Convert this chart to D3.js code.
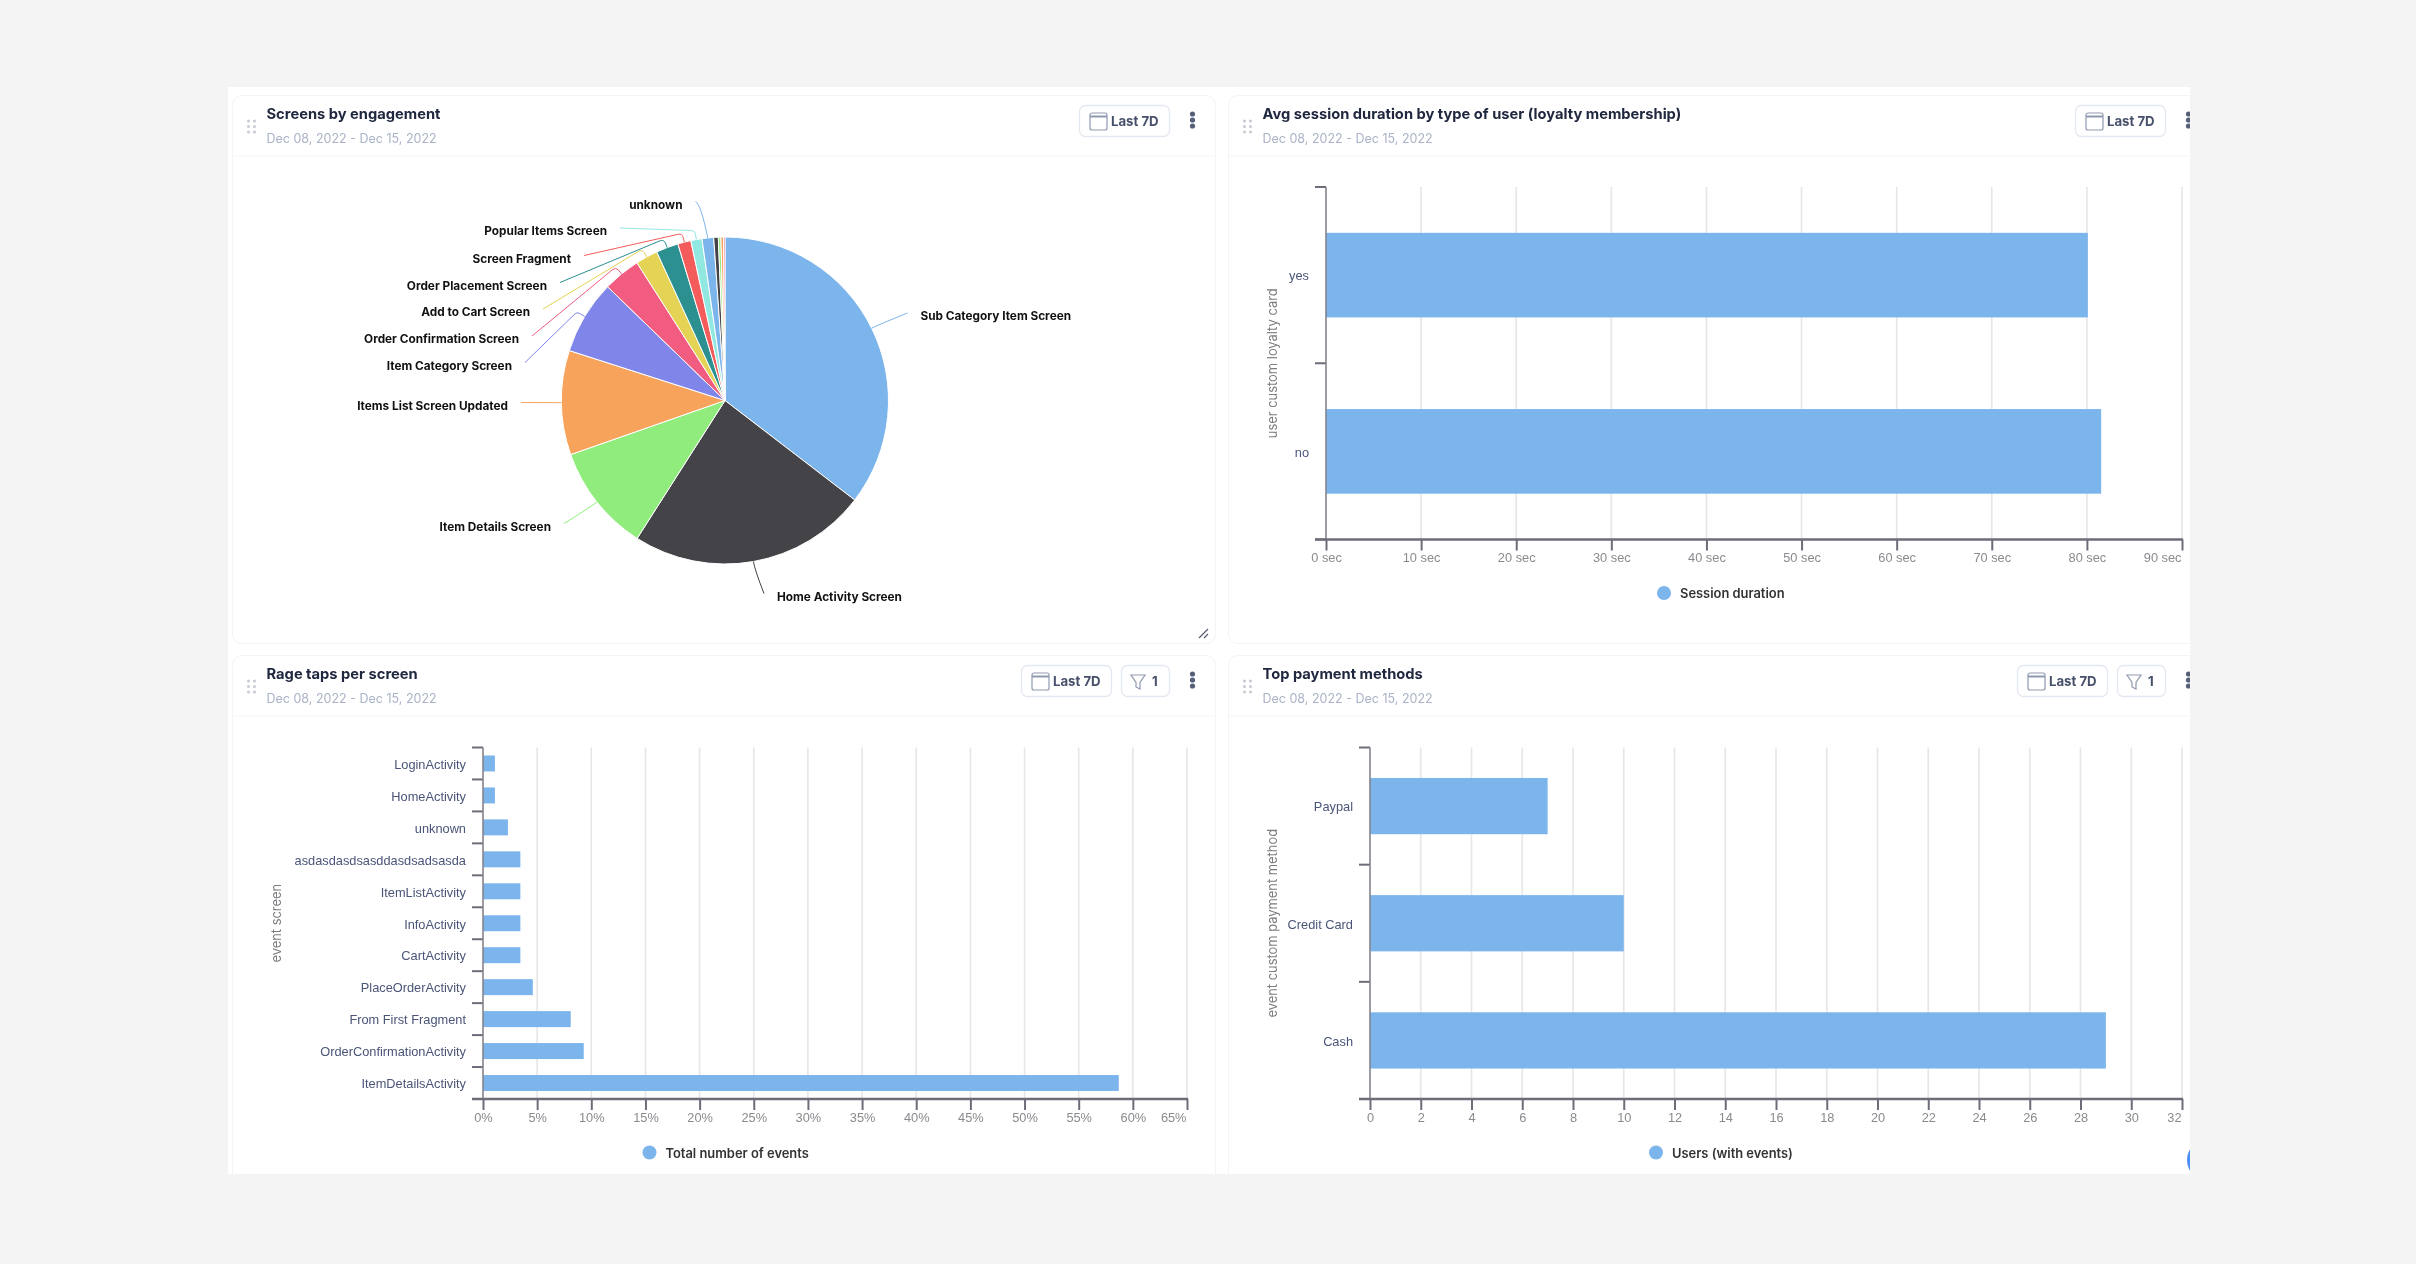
<!DOCTYPE html>
<html>
<head>
<meta charset="utf-8">
<script src="https://cdn.jsdelivr.net/npm/d3@7"></script>
<style>
html, body { margin: 0; padding: 0; background: #f4f4f4; overflow: hidden; }
svg { display: block; font-family: Inter, Roboto, sans-serif; filter: blur(0.45px); }
.axis-x text { fill: #8a8a8f; font-size: 12.8px; }
.axis-y text { fill: #4a5578; font-size: 12.8px; }
.axis-title { fill: #7c7c80; font-size: 12.9px; }
.legend-label { fill: #333; font-size: 12.9px; font-weight: 600; }
.pie-label { fill: #111; font-size: 11.8px; font-weight: 700; }
</style>
</head>
<body>
<svg id="chart" width="2416" height="1264"></svg>
<script>
// chart values
var pie_screens = ["Sub Category Item Screen", "Home Activity Screen", "Item Details Screen", "Items List Screen Updated",
    "Item Category Screen", "Order Confirmation Screen", "Add to Cart Screen", "Order Placement Screen",
    "Screen Fragment", "Popular Items Screen", "unknown", "other 1", "other 2", "other 3", "other 4"];
var pie_values = [35.4, 23.6, 10.6, 10.3, 7.3, 3.7, 2.2, 2.2, 1.3, 1.1, 1.15, 0.45, 0.25, 0.25, 0.15];

var session_users = ["yes", "no"];
var session_seconds = [80.1, 81.5];
var session_ticks = [0, 10, 20, 30, 40, 50, 60, 70, 80, 90];

var rage_screens = ["LoginActivity", "HomeActivity", "unknown", "asdasdasdsasddasdsadsasda", "ItemListActivity", "InfoActivity",
    "CartActivity", "PlaceOrderActivity", "From First Fragment", "OrderConfirmationActivity", "ItemDetailsActivity"];
var rage_percent = [1.1, 1.1, 2.3, 3.45, 3.45, 3.45, 3.45, 4.6, 8.1, 9.3, 58.7];
var rage_ticks = [0, 5, 10, 15, 20, 25, 30, 35, 40, 45, 50, 55, 60, 65];

var payment_methods = ["Paypal", "Credit Card", "Cash"];
var payment_users = [7, 10, 29];
var payment_ticks = [0, 2, 4, 6, 8, 10, 12, 14, 16, 18, 20, 22, 24, 26, 28, 30, 32];

var pie_colors = ["#7cb5ec", "#434348", "#90ed7d", "#f7a35c", "#8085e9", "#f15c80", "#e4d354", "#2b908f", "#f45b5b", "#91e8e1",
    "#7cb5ec", "#434348", "#90ed7d", "#f7a35c", "#f15c80"];
var bar_color = "#7cb4ec";

var svg = d3.select("#chart");

// white page area, the screenshot is cut off at its right edge
svg.append("defs").append("clipPath").attr("id", "page-clip")
    .append("rect").attr("x", 228).attr("y", 87).attr("width", 1962).attr("height", 1087);
var page = svg.append("g").attr("clip-path", "url(#page-clip)");
page.append("rect").attr("x", 228).attr("y", 87).attr("width", 1962).attr("height", 1087).attr("fill", "#ffffff");

function card(box, title, has_filter) {
    var g = page.append("g").attr("transform", "translate(" + box.x + "," + box.y + ")");

    g.append("rect")
        .attr("x", 0.5).attr("y", 0.5)
        .attr("width", box.w).attr("height", box.h)
        .attr("rx", 9)
        .attr("fill", "#fff")
        .attr("stroke", "#f3f4f6");

    g.append("line")
        .attr("x1", 0).attr("x2", box.w)
        .attr("y1", box.head).attr("y2", box.head)
        .attr("stroke", "#f4f5f7");

    // drag handle
    d3.cross([0, 1], [0, 1, 2]).forEach(function(d) {
        g.append("circle")
            .attr("cx", 16.5 + d[0] * 6)
            .attr("cy", box.head / 2 - 4.5 + d[1] * 5.5)
            .attr("r", 1.5)
            .attr("fill", "#c6cad3");
    });

    g.append("text")
        .attr("x", 34.5).attr("y", box.head / 2 - 7)
        .attr("font-size", 14.7).attr("font-weight", 700)
        .attr("fill", "#20283f")
        .text(title);

    g.append("text")
        .attr("x", 34.5).attr("y", box.head / 2 + 17)
        .attr("font-size", 12.5)
        .attr("fill", "#a9b2c6")
        .text("Dec 08, 2022 - Dec 15, 2022");

    // right edge of the buttons, the menu dots sit past it
    var right = box.btn;
    var top = box.head / 2 - 20.5;

    if (has_filter) {
        var f = g.append("g").attr("transform", "translate(" + (right - 48) + "," + top + ")");
        f.append("rect").attr("x", 0.5).attr("y", 0.5).attr("width", 48).attr("height", 31).attr("rx", 6)
            .attr("fill", "#fff").attr("stroke", "#e4e8f0").attr("stroke-width", 1.3);
        f.append("path").attr("d", "M10,10 H24 L19,17.5 V24 L15,22 V17.5 Z")
            .attr("fill", "none").attr("stroke", "#8f9ab0").attr("stroke-width", 1.2);
        f.append("text").attr("x", 31).attr("y", 20.5).attr("font-size", 13.2).attr("font-weight", 700)
            .attr("fill", "#47506a").text("1");
        right -= 58;
    }

    var b = g.append("g").attr("transform", "translate(" + (right - 90) + "," + top + ")");
    b.append("rect").attr("x", 0.5).attr("y", 0.5).attr("width", 90).attr("height", 31).attr("rx", 6)
        .attr("fill", "#fff").attr("stroke", "#e4e8f0").attr("stroke-width", 1.3);
    b.append("rect").attr("x", 11).attr("y", 8).attr("width", 17).attr("height", 17).attr("rx", 2)
        .attr("fill", "#fff").attr("stroke", "#8f9ab0").attr("stroke-width", 1.2);
    b.append("line").attr("x1", 11).attr("x2", 28).attr("y1", 11.5).attr("y2", 11.5)
        .attr("stroke", "#8f9ab0").attr("stroke-width", 2);
    b.append("text").attr("x", 32).attr("y", 20.5).attr("font-size", 13.2).attr("font-weight", 700)
        .attr("fill", "#47506a").text("Last 7D");

    [-6, 0, 6].forEach(function(d) {
        g.append("circle")
            .attr("cx", box.btn + 23.5)
            .attr("cy", top + 15 + d)
            .attr("r", 2.6)
            .attr("fill", "#566079");
    });

    return g;
}

function hbar(opt) {
    var g = page.append("g");
    var x = d3.scaleLinear().domain(opt.x_domain).range([opt.left, opt.right]);
    var y = d3.scaleBand().domain(opt.names).range([opt.top, opt.bottom]).paddingInner(opt.pad).paddingOuter(opt.pad / 2);

    // grid
    g.append("g").selectAll("line")
        .data(opt.ticks.slice(1))
        .join("line")
        .attr("x1", d => x(d)).attr("x2", d => x(d))
        .attr("y1", opt.top).attr("y2", opt.bottom)
        .attr("stroke", "#e6e6e6")
        .attr("stroke-width", 1.6);

    g.append("g").selectAll("rect")
        .data(opt.values)
        .join("rect")
        .attr("x", opt.left)
        .attr("y", (d, i) => y(opt.names[i]))
        .attr("width", d => x(d) - opt.left)
        .attr("height", y.bandwidth())
        .attr("fill", bar_color);

    var x_axis = g.append("g")
        .attr("class", "axis-x")
        .attr("transform", "translate(0," + opt.bottom + ")")
        .call(d3.axisBottom(x).tickValues(opt.ticks).tickFormat(opt.format).tickSize(11).tickSizeOuter(0).tickPadding(2.5));
    x_axis.select(".domain").remove();
    x_axis.selectAll("line").attr("stroke", "#6d6d7a").attr("stroke-width", 2);
    x_axis.selectAll("text").filter(d => d == opt.ticks[opt.ticks.length - 1])
        .attr("text-anchor", "end")
        .attr("dx", -1);

    var y_axis = g.append("g")
        .attr("class", "axis-y")
        .attr("transform", "translate(" + opt.left + ",0)")
        .call(d3.axisLeft(y).tickSize(0).tickPadding(17));
    y_axis.select(".domain").remove();
    y_axis.selectAll("text").attr("dy", "0.41em");

    // ticks sit between the bands
    g.append("g").selectAll("line")
        .data(d3.range(opt.names.length + 1))
        .join("line")
        .attr("x1", opt.left - 11).attr("x2", opt.left)
        .attr("y1", d => opt.top + d * y.step()).attr("y2", d => opt.top + d * y.step())
        .attr("stroke", "#6d6d7a")
        .attr("stroke-width", 2);

    g.append("line")
        .attr("x1", opt.left).attr("x2", opt.left)
        .attr("y1", opt.top).attr("y2", opt.bottom)
        .attr("stroke", "#84848c")
        .attr("stroke-width", 1.6);

    g.append("line")
        .attr("x1", opt.left - 11).attr("x2", opt.right + 1)
        .attr("y1", opt.bottom).attr("y2", opt.bottom)
        .attr("stroke", "#6d6d7a")
        .attr("stroke-width", 2.4);

    g.append("text")
        .attr("class", "axis-title")
        .attr("text-anchor", "middle")
        .attr("transform", "translate(" + opt.title_x + "," + (opt.top + opt.bottom) / 2 + ") rotate(-90)")
        .text(opt.y_title);

    g.append("circle")
        .attr("cx", opt.legend_x).attr("cy", opt.bottom + 53.5)
        .attr("r", 7)
        .attr("fill", bar_color);

    g.append("text")
        .attr("class", "legend-label")
        .attr("x", opt.legend_x + 16).attr("y", opt.bottom + 58.5)
        .text(opt.legend);
}

card({x: 232, y: 95, w: 983, h: 548, head: 61, btn: 1169 - 232}, "Screens by engagement", false);
card({x: 1228, y: 95, w: 983, h: 548, head: 61, btn: 2165 - 1228}, "Avg session duration by type of user (loyalty membership)", false);
card({x: 232, y: 655, w: 983, h: 548, head: 61, btn: 1169 - 232}, "Rage taps per screen", true);
card({x: 1228, y: 655, w: 983, h: 548, head: 61, btn: 2165 - 1228}, "Top payment methods", true);

// pie
var cx = 725, cy = 400.5, radius = 163.5;
var pie_g = page.append("g").attr("transform", "translate(" + cx + "," + cy + ")");
var pie_data = d3.pie().sort(null)(pie_values);
var arc = d3.arc().innerRadius(0).outerRadius(radius);
var edge_arc = d3.arc().innerRadius(radius).outerRadius(radius);
var elbow_arc = d3.arc().innerRadius(radius + 9).outerRadius(radius + 9);

pie_g.selectAll("path.slice")
    .data(pie_data)
    .join("path")
    .attr("class", "slice")
    .attr("d", arc)
    .attr("fill", (d, i) => pie_colors[i])
    .attr("stroke", "#fff")
    .attr("stroke-width", 1);

// where each label goes, [x, y, anchor]
var label_spots = [
    [920.5, 316, "start"], [777, 596.5, "start"], [551, 526.5, "end"], [508, 405.5, "end"],
    [512, 365.5, "end"], [519, 339, "end"], [530, 312, "end"], [547, 285.5, "end"],
    [571, 258.5, "end"], [607, 231, "end"], [682.5, 204.5, "end"]
];

label_spots.forEach(function(spot, i) {
    var dir = spot[2] == "start" ? -1 : 1;
    var from = [spot[0] + dir * 13 - cx, spot[1] - 3 - cy];
    var edge = edge_arc.centroid(pie_data[i]);
    var elbow = elbow_arc.centroid(pie_data[i]);
    var p = d3.path();
    p.moveTo(from[0], from[1]);
    if (i < 3) {
        p.quadraticCurveTo(elbow[0], elbow[1], edge[0], edge[1]);
    } else if (i == 3) {
        p.lineTo(edge[0], edge[1]);
    } else if (i == 10) {
        p.quadraticCurveTo(edge[0] - 7, edge[1] - 34, edge[0], edge[1]);
    } else {
        p.arcTo(elbow[0], elbow[1], edge[0], edge[1], 4);
        p.lineTo(edge[0], edge[1]);
    }
    pie_g.append("path")
        .attr("d", p.toString())
        .attr("fill", "none")
        .attr("stroke", pie_colors[i])
        .attr("stroke-width", 1);

    page.append("text")
        .attr("class", "pie-label")
        .attr("x", spot[0]).attr("y", spot[1] + 4)
        .attr("text-anchor", spot[2])
        .text(pie_screens[i]);
});

// resize grip
page.append("path")
    .attr("d", "M1199,638 L1208,629 M1204,638 L1208,634")
    .attr("stroke", "#555b6b").attr("stroke-width", 1.2).attr("fill", "none");

hbar({
    names: session_users, values: session_seconds, ticks: session_ticks,
    x_domain: [0, 90], left: 1326, right: 2182, top: 187, bottom: 539.5, pad: 0.52,
    format: d => d + " sec", y_title: "user custom loyalty card", title_x: 1277,
    legend: "Session duration", legend_x: 1664
});

hbar({
    names: rage_screens, values: rage_percent, ticks: rage_ticks,
    x_domain: [0, 65], left: 483, right: 1187, top: 747.5, bottom: 1099, pad: 0.5,
    format: d => d + "%", y_title: "event screen", title_x: 281,
    legend: "Total number of events", legend_x: 649.5
});

hbar({
    names: payment_methods, values: payment_users, ticks: payment_ticks,
    x_domain: [0, 32], left: 1370, right: 2182, top: 747.5, bottom: 1099, pad: 0.52,
    format: d => d, y_title: "event custom payment method", title_x: 1277,
    legend: "Users (with events)", legend_x: 1656
});

// chat bubble cut off by the page edge
page.append("circle")
    .attr("cx", 2207).attr("cy", 1160).attr("r", 20).attr("fill", "#4e8ff7");
</script>
</body>
</html>
